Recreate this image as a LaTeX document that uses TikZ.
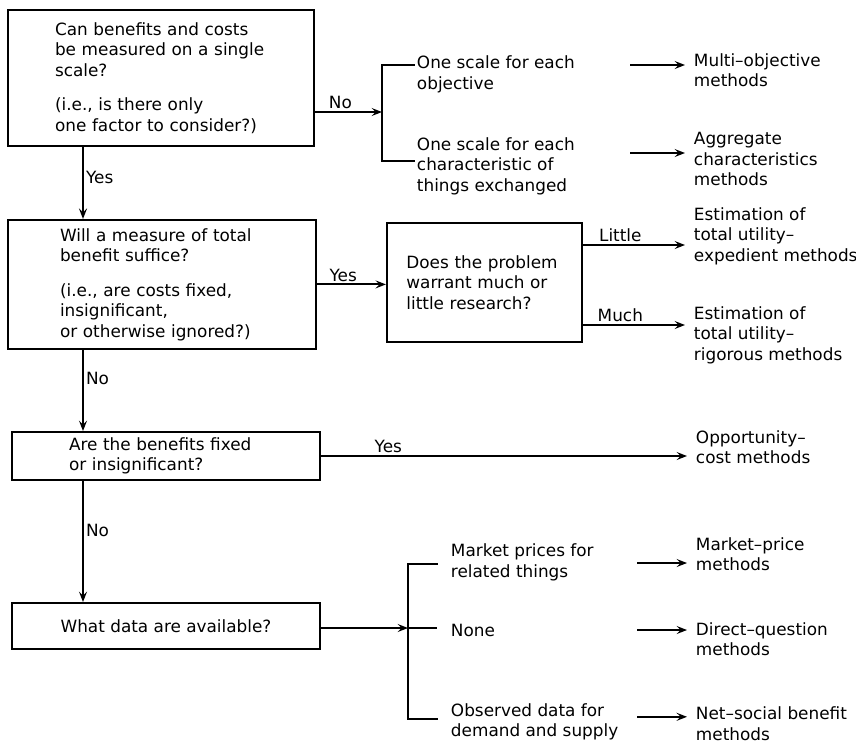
\documentclass[tikz,border=0pt]{standalone}
\usepackage{fontspec}
\setmainfont{DejaVu Sans}
\usetikzlibrary{arrows.meta, calc}

\begin{document}
\begin{tikzpicture}[
  font=\fontsize{12pt}{14.6pt}\selectfont,
  line width=1.4pt,
  qbox/.style={draw, align=left, inner sep=1mm},
  opt/.style={anchor=west, align=left, inner sep=0pt},
  meth/.style={anchor=west, align=left, inner sep=0pt},
  arr/.style={-{Stealth[length=2.6mm, width=2mm, inset=1mm]}},
  toM/.style={arr, shorten >=2mm},
  brk/.style={line cap=rect},
  lbl/.style={inner sep=1.5pt}
]
\useasboundingbox (0mm,0mm) rectangle (214mm,-185.75mm);

%% ---------- questions ----------
\node[qbox, minimum width=76.5mm, minimum height=34mm, text width=53mm] (q1)
  at (40.25mm,-19.5mm)
  {Can benefits and costs\\be measured on a single\\scale?\\[3.5mm](i.e., is there only\\one factor to consider?)};
\node[qbox, minimum width=77mm, minimum height=32.25mm, text width=51mm] (q2)
  at (40.5mm,-71.1mm)
  {Will a measure of total\\benefit suffice?\\[3.5mm](i.e., are costs fixed,\\insignificant,\\or otherwise ignored?)};
\node[qbox, minimum width=48.75mm, minimum height=29.75mm, text width=39mm] (q3)
  at (121.1mm,-70.6mm)
  {Does the problem\\warrant much or\\little research?};
\node[qbox, minimum width=77mm, minimum height=12mm, text width=48.5mm] (q4)
  at (41.5mm,-114mm)
  {Are the benefits fixed\\or insignificant?};
\node[qbox, minimum width=77mm, minimum height=11.5mm, align=center] (q5)
  at (41.5mm,-156.5mm)
  {What data are available?};

%% ---------- options ----------
\node[opt] (o1) at (104mm,-18.6mm)   {One scale for each\\objective};
\node[opt] (o2) at (104mm,-41.5mm)   {One scale for each\\characteristic of\\things exchanged};
\node[opt] (o3) at (112.5mm,-140.6mm) {Market prices for\\related things};
\node[opt] (o4) at (112.5mm,-157.5mm) {None};
\node[opt] (o5) at (112.5mm,-180.4mm) {Observed data for\\demand and supply};

%% ---------- methods ----------
\node[meth] (m1) at (173.25mm,-17.5mm)   {Multi--objective\\methods};
\node[meth] (m2) at (173.25mm,-39.75mm)  {Aggregate\\characteristics\\methods};
\node[meth] (m3) at (173.25mm,-59mm)     {Estimation of\\total utility--\\expedient methods};
\node[meth] (m4) at (173.25mm,-83.75mm)  {Estimation of\\total utility--\\rigorous methods};
\node[meth] (m5) at (173.75mm,-111.75mm) {Opportunity--\\cost methods};
\node[meth] (m6) at (173.75mm,-138.5mm)  {Market--price\\methods};
\node[meth] (m7) at (173.75mm,-159.75mm) {Direct--question\\methods};
\node[meth, anchor=south west] (m8) at (173.75mm,-185.4mm) {Net--social benefit\\methods};

%% ---------- helper points ----------
\coordinate (spine) at (20.75mm,0mm);
\coordinate (br1) at (95.5mm,-28mm);
\coordinate (t1)  at (103.5mm,-16.25mm);
\coordinate (t2)  at (103.5mm,-40.25mm);
\coordinate (br2) at (102mm,-157mm);
\coordinate (t3)  at (109.25mm,-141mm);
\coordinate (t4)  at (109.25mm,-157mm);
\coordinate (t5)  at (109.25mm,-179.75mm);
\coordinate (a1) at (157.5mm,-16.25mm);
\coordinate (a2) at (157.5mm,-38.25mm);
\coordinate (little) at (0mm,-61.25mm);
\coordinate (much)   at (0mm,-81.25mm);
\coordinate (a6) at (159.25mm,-140.75mm);
\coordinate (a7) at (159.25mm,-157.5mm);
\coordinate (a8) at (159.25mm,-179.2mm);

%% ---------- main spine ----------
\draw[arr] (q1.south -| spine) -- node[lbl, right, pos=0.43] {Yes} (q2.north -| spine);
\draw[arr] (q2.south -| spine) -- node[lbl, right, pos=0.35] {No} (q4.north -| spine);
\draw[arr] (q4.south -| spine) -- node[lbl, right, pos=0.41] {No} (q5.north -| spine);

%% ---------- single scale? no ----------
\draw[arr] (q1.east |- br1) -- node[lbl, above, pos=0.38] {No} (br1);
\draw[brk] (t1) -| (br1) |- (t2);
\draw[toM] (a1) -- (m1.west |- a1);
\draw[toM] (a2) -- (m2.west |- a2);

%% ---------- total benefit ----------
\draw[arr] (q2.east) -- node[lbl, above, pos=0.38] {Yes} (q3.west |- q2.east);
\draw[toM] (q3.east |- little) -- node[lbl, above, pos=0.34] {Little} (m3.west |- little);
\draw[toM] (q3.east |- much) -- node[lbl, above, pos=0.34] {Much} (m4.west |- much);

%% ---------- benefits fixed ----------
\draw[toM] (q4.east) -- node[lbl, above, pos=0.18] {Yes} (m5.west |- q4.east);

%% ---------- data available ----------
\draw[arr] (q5.east |- br2) -- (br2);
\draw[brk] (t3) -| (br2) |- (t5);
\draw (br2) -- (t4);
\draw[toM] (a6) -- (m6.west |- a6);
\draw[toM] (a7) -- (m7.west |- a7);
\draw[toM] (a8) -- (m8.west |- a8);
\end{tikzpicture}
\end{document}
